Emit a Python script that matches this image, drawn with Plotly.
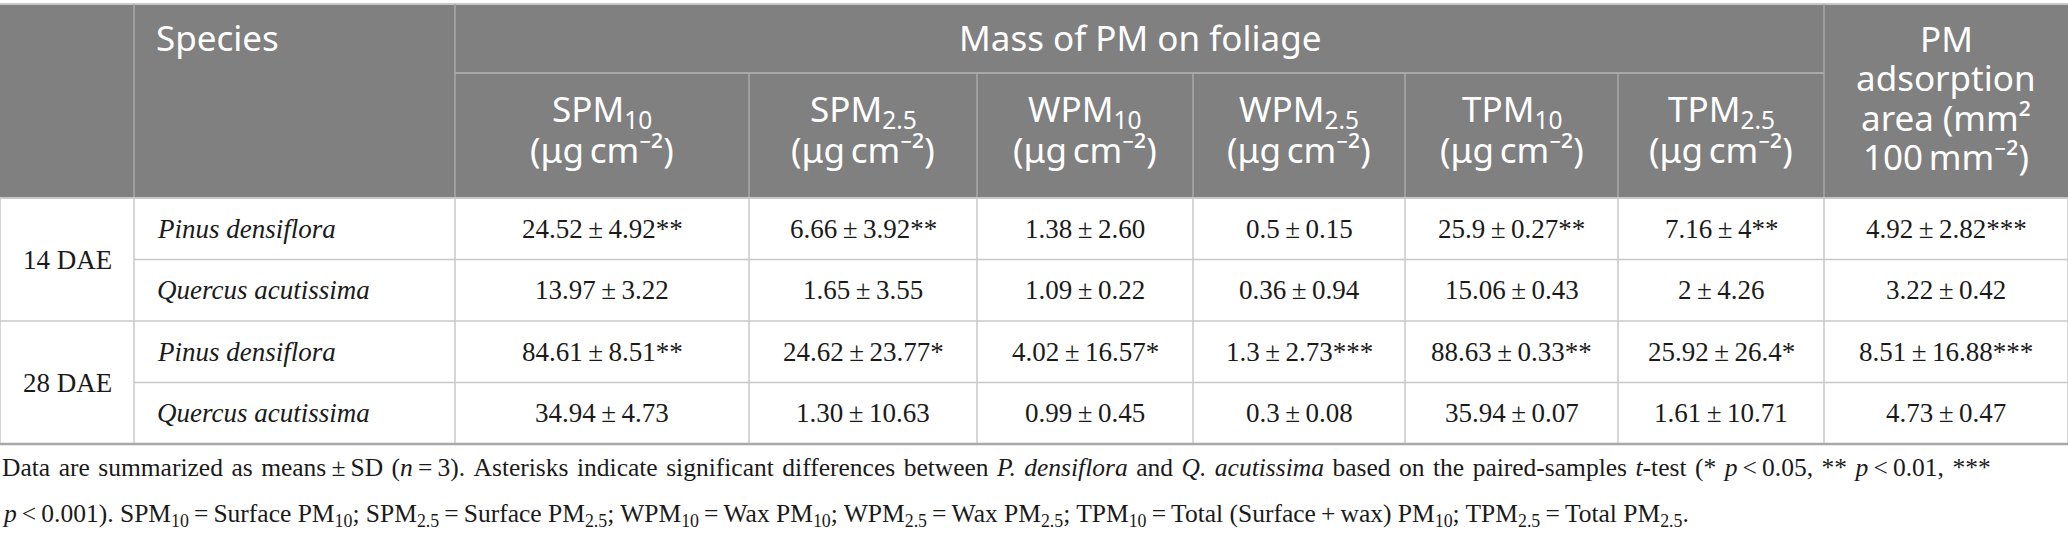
import plotly.graph_objects as go

# table content
dae = ["14 DAE", "28 DAE"]
species = ["Pinus densiflora", "Quercus acutissima"]
group_title = "Mass of PM on foliage"
col_heads = ["SPM<sub>10</sub>", "SPM<sub>2.5</sub>", "WPM<sub>10</sub>", "WPM<sub>2.5</sub>",
             "TPM<sub>10</sub>", "TPM<sub>2.5</sub>"]
unit = "(\u03bcg\u2009cm\u207b\u00b2)"
area_head = ["PM", "adsorption", "area (mm\u00b2", "100\u2009mm\u207b\u00b2)"]

# rows: 14 DAE Pinus, 14 DAE Quercus, 28 DAE Pinus, 28 DAE Quercus
spm10 = ["24.52", "13.97", "84.61", "34.94"]
spm10_sd = ["4.92", "3.22", "8.51", "4.73"]
spm10_sig = ["**", "", "**", ""]
spm25 = ["6.66", "1.65", "24.62", "1.30"]
spm25_sd = ["3.92", "3.55", "23.77", "10.63"]
spm25_sig = ["**", "", "*", ""]
wpm10 = ["1.38", "1.09", "4.02", "0.99"]
wpm10_sd = ["2.60", "0.22", "16.57", "0.45"]
wpm10_sig = ["", "", "*", ""]
wpm25 = ["0.5", "0.36", "1.3", "0.3"]
wpm25_sd = ["0.15", "0.94", "2.73", "0.08"]
wpm25_sig = ["", "", "***", ""]
tpm10 = ["25.9", "15.06", "88.63", "35.94"]
tpm10_sd = ["0.27", "0.43", "0.33", "0.07"]
tpm10_sig = ["**", "", "**", ""]
tpm25 = ["7.16", "2", "25.92", "1.61"]
tpm25_sd = ["4", "4.26", "26.4", "10.71"]
tpm25_sig = ["**", "", "*", ""]
area = ["4.92", "3.22", "8.51", "4.73"]
area_sd = ["2.82", "0.42", "16.88", "0.47"]
area_sig = ["***", "", "***", ""]

note_lines = [
    "Data are summarized as means\u2009\u00b1\u2009SD (<i>n</i>\u2009=\u20093). Asterisks indicate significant differences "
    "between <i>P. densiflora</i> and <i>Q. acutissima</i> based on the paired-samples <i>t</i>-test "
    "(* <i>p</i>\u2009<\u20090.05, ** <i>p</i>\u2009<\u20090.01, ***",
    "<i>p</i>\u2009<\u20090.001). SPM<sub>10</sub>\u2009=\u2009Surface PM<sub>10</sub>; "
    "SPM<sub>2.5</sub>\u2009=\u2009Surface PM<sub>2.5</sub>; WPM<sub>10</sub>\u2009=\u2009Wax PM<sub>10</sub>; "
    "WPM<sub>2.5</sub>\u2009=\u2009Wax PM<sub>2.5</sub>; TPM<sub>10</sub>\u2009=\u2009Total (Surface\u2009+\u2009wax) "
    "PM<sub>10</sub>; TPM<sub>2.5</sub>\u2009=\u2009Total PM<sub>2.5</sub>.",
]

columns = [
    (spm10, spm10_sd, spm10_sig), (spm25, spm25_sd, spm25_sig),
    (wpm10, wpm10_sd, wpm10_sig), (wpm25, wpm25_sd, wpm25_sig),
    (tpm10, tpm10_sd, tpm10_sig), (tpm25, tpm25_sd, tpm25_sig),
    (area, area_sd, area_sig),
]

# geometry (pixels)
W, H = 2068, 535
col_w = [134, 321, 294, 228, 216, 212, 213, 206, 244]
edges = [0]
for w in col_w:
    edges.append(edges[-1] + w)
top, sub_line, head_bot = 4, 73, 198
row_h = 61.5
row_edges = [head_bot + i * row_h for i in range(5)]

HEAD_BG = "#808080"
HEAD_LINE = "#a9a9a9"
BODY_LINE = "#c8c8c8"
SANS = "Noto Sans"
SERIF = "Liberation Serif"

fig = go.Figure()
shapes = []
ann = []


def line(x0, y0, x1, y1, color, width=1.5):
    shapes.append(dict(type="line", x0=x0, y0=y0, x1=x1, y1=y1, xref="x", yref="y",
                       line=dict(color=color, width=width)))


def text(x, y, s, size, color, family, anchor="center"):
    ann.append(dict(x=x, y=y, text=s, xref="x", yref="y", showarrow=False, xanchor=anchor,
                    yanchor="middle", font=dict(size=size, color=color, family=family)))


# header block
shapes.append(dict(type="rect", x0=0, y0=top, x1=W, y1=head_bot, xref="x", yref="y",
                   fillcolor=HEAD_BG, line=dict(width=0), layer="below"))
line(0, top, W, top, BODY_LINE, 2)
line(edges[2], sub_line, edges[8], sub_line, HEAD_LINE, 2)
for i, x in enumerate(edges[1:-1], start=1):
    y0 = top if i in (1, 2, 8) else sub_line
    line(x, y0, x, head_bot, HEAD_LINE, 1.5)

# body grid
for x in edges:
    line(x, head_bot, x, row_edges[-1], BODY_LINE, 1.5)
for j, y in enumerate(row_edges[1:-1], start=1):
    x0 = edges[0] if j == 2 else edges[1]
    line(x0, y, W, y, BODY_LINE, 1.5)
line(0, head_bot, W, head_bot, BODY_LINE, 2)
line(0, row_edges[-1], W, row_edges[-1], "#a8a8a8", 2.5)

# header texts
text(edges[1] + 20, 37, "Species", 35, "white", SANS, "left")
text((edges[2] + edges[8]) / 2, 37, group_title, 35, "white", SANS)
for k, h in enumerate(col_heads):
    cx = (edges[k + 2] + edges[k + 3]) / 2
    text(cx, 110, h, 35, "white", SANS)
    text(cx, 149, unit, 35, "white", SANS)
for k, h in enumerate(area_head):
    text((edges[8] + edges[9]) / 2, 38 + k * 39.5, h, 35, "white", SANS)

# body texts
for g, d in enumerate(dae):
    text((edges[0] + edges[1]) / 2, row_edges[2 * g + 1], d, 27, "#1a1a1a", SERIF)
for r in range(4):
    cy = (row_edges[r] + row_edges[r + 1]) / 2
    text(edges[1] + 21, cy, "<i>" + species[r % 2] + "</i>", 27, "#1a1a1a", SERIF, "left")
    for c, (m, sd, sig) in enumerate(columns):
        cx = (edges[c + 2] + edges[c + 3]) / 2
        text(cx, cy, m[r] + "\u2009\u00b1\u2009" + sd[r] + sig[r], 27, "#1a1a1a", SERIF)

# footnote; first line is justified in the source, so pad each word gap slightly
note_y = [467, 515]
for k, s in enumerate(note_lines):
    if k == 0:
        s = s.replace(" ", " \u200a")
    text(0, note_y[k], s, 25.5, "#1a1a1a", SERIF, "left")

fig.update_layout(
    width=W, height=H, margin=dict(l=0, r=0, t=0, b=0),
    paper_bgcolor="white", plot_bgcolor="white",
    xaxis=dict(range=[0, W], visible=False, fixedrange=True),
    yaxis=dict(range=[H, 0], visible=False, fixedrange=True),
    shapes=shapes, annotations=ann, showlegend=False,
)

# drop the default page margin so the table sits at the window corner
fig.write_html("out.html", config={"displayModeBar": False},
               post_script="document.body.style.margin='0px';")
